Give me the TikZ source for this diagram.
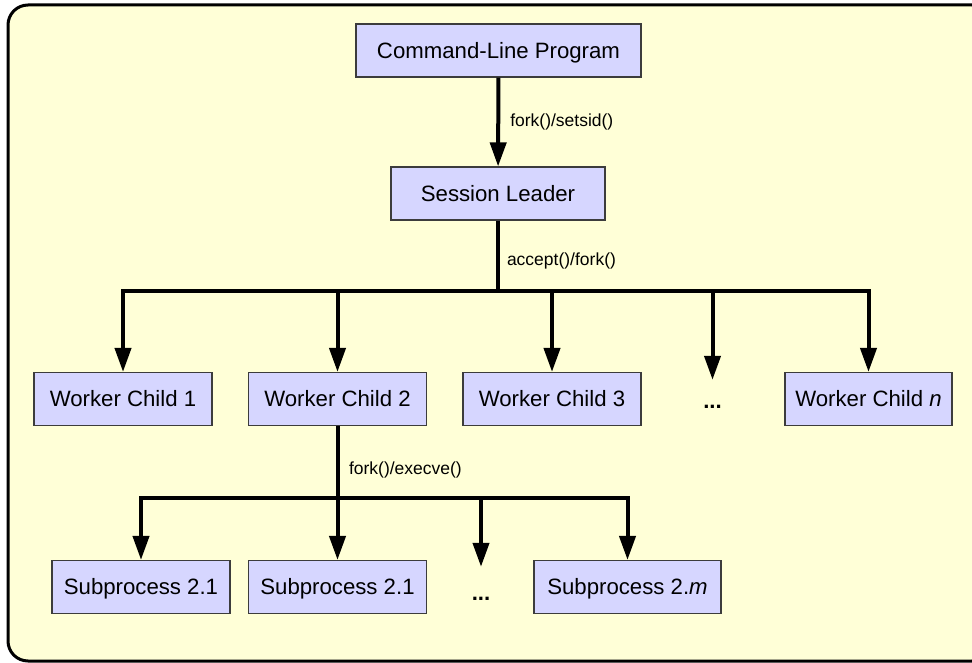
\documentclass[tikz,border=0pt]{standalone}
\usepackage{fontspec}
\setmainfont{Liberation Sans}
\usetikzlibrary{arrows.meta}
\definecolor{paper}{RGB}{255,255,215}
\definecolor{boxfill}{RGB}{214,214,255}
\definecolor{boxline}{RGB}{60,60,60}
\tikzset{
  proc/.style={draw=boxline, line width=1.1pt, fill=boxfill, inner sep=0pt,
    minimum height=53pt, text height=15.8pt, text depth=0pt,
    font=\fontsize{22.2}{26}\selectfont},
  ellip/.style={inner xsep=0pt, text height=2.5pt, text depth=0pt,
    font=\fontsize{22.2}{26}\selectfont\bfseries},
  flow/.style={line width=4pt, -{Triangle[width=16pt,length=24pt]}},
  wire/.style={line width=4pt},
  lbl/.style={font=\fontsize{17.5}{20}\selectfont, inner sep=0pt, anchor=west},
}
\begin{document}
\begin{tikzpicture}[x=1pt,y=-1pt]
\useasboundingbox (0,0) rectangle (972,663);
% outer panel
\draw[line width=3pt, fill=paper, rounded corners=20pt] (8,5) rectangle (992,661);

% processes
\node[proc, minimum width=285pt] (clp) at (498.5,50.5) {Command-Line Program};
\node[proc, minimum width=214pt] (sl) at (498,193.5) {Session Leader};
\node[proc, minimum width=178pt] (wc1) at (123,399) {Worker Child 1};
\node[proc, minimum width=178pt] (wc2) at (337.5,399) {Worker Child 2};
\node[proc, minimum width=178pt] (wc3) at (552,399) {Worker Child 3};
\node[ellip, inner ysep=25.5pt] (wdots) at (712.5,406.75) {...};
\node[proc, minimum width=167pt] (wcn) at (868.5,399) {Worker Child \textit{n}};
\node[proc, minimum width=178pt] (sp1) at (141,587) {Subprocess 2.1};
\node[proc, minimum width=178pt] (sp2) at (337.5,587) {Subprocess 2.1};
\node[ellip, inner ysep=30.5pt] (sdots) at (481,598.75) {...};
\node[proc, minimum width=187pt] (spm) at (627.5,587) {Subprocess 2.\textit{m}};

% fan-out points
\coordinate (fan1) at (498,291);
\coordinate (fan2) at (337.5,498);

% program -> session leader
\draw[flow] (clp) -- node[lbl, xshift=10pt] {fork()/setsid()} (sl);

% session leader -> workers
\draw[wire] (sl) -- node[lbl, pos=0.57, xshift=7pt] {accept()/fork()} (fan1);
\draw[flow] (fan1) -| (wc1.north);
\draw[flow] (fan1) -| (wcn.north);
\draw[flow] (wc2.north |- fan1) -- (wc2.north);
\draw[flow] (wc3.north |- fan1) -- (wc3.north);
\draw[flow] (wdots.north |- fan1) -- (wdots.north);

% worker 2 -> subprocesses
\draw[flow] (wc2) -- node[lbl, pos=0.33, xshift=9.5pt] {fork()/execve()} (sp2);
\draw[flow] (fan2) -| (sp1.north);
\draw[flow] (fan2) -| (spm.north);
\draw[flow] (sdots.north |- fan2) -- (sdots.north);
\end{tikzpicture}
\end{document}
